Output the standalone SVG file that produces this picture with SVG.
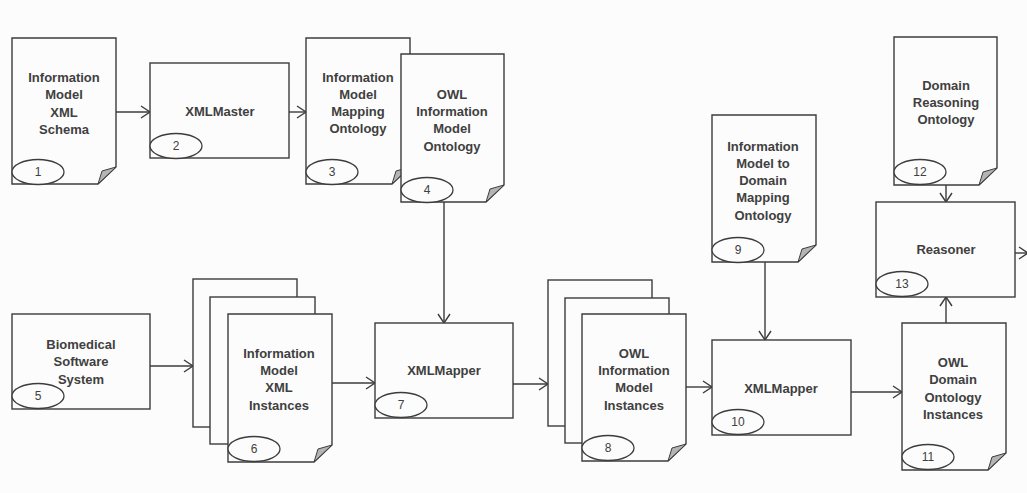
<svg xmlns="http://www.w3.org/2000/svg" width="1027" height="493" viewBox="0 0 1027 493">
<defs>
<style>
.pg{fill:#fcfcfc;stroke:#3c3c3c;stroke-width:1.4}
.fold{fill:#b4b4b4;stroke:#3c3c3c;stroke-width:1}
.el{fill:#fcfcfc;stroke:#3c3c3c;stroke-width:1.3}
.t{font-family:"Liberation Sans",Arial,sans-serif;font-size:13px;font-weight:bold;fill:#404040;text-anchor:middle;dominant-baseline:central}
.n{font-family:"Liberation Sans",Arial,sans-serif;font-size:12px;fill:#404040;text-anchor:middle;dominant-baseline:central}
.c{fill:none;stroke:#3c3c3c;stroke-width:1.4;marker-end:url(#ah)}
</style>
<marker id="ah" markerWidth="12" markerHeight="14" refX="10" refY="7" orient="auto" markerUnits="userSpaceOnUse">
<path d="M1,1 L10,7 L1,13" fill="none" stroke="#3c3c3c" stroke-width="1.4"/>
</marker>
</defs>
<rect width="1027" height="493" fill="#fcfcfc"/>
<g id="connectors">
<line class="c" x1="116" y1="112" x2="150" y2="112"/>
<line class="c" x1="289" y1="112" x2="306" y2="112"/>
<line class="c" x1="444" y1="202" x2="444" y2="323"/>
<line class="c" x1="150" y1="366" x2="193" y2="366"/>
<line class="c" x1="332" y1="383" x2="375" y2="383"/>
<line class="c" x1="513" y1="384" x2="548" y2="384"/>
<line class="c" x1="686" y1="387" x2="712" y2="387"/>
<line class="c" x1="765" y1="262" x2="765" y2="340"/>
<line class="c" x1="851" y1="392" x2="902" y2="392"/>
<line class="c" x1="946" y1="323" x2="946" y2="297"/>
<line class="c" x1="946" y1="185" x2="946" y2="202"/>
<line class="c" x1="1015" y1="253" x2="1028" y2="253"/>
</g>
<g id="node1">
<path class="pg" d="M12,38 H116 V167 L98,184 H12 Z"/>
<path class="fold" d="M98,184 L102,171 L116,167 Z"/>
<text class="t" x="64" y="77">Information</text>
<text class="t" x="64" y="94">Model</text>
<text class="t" x="64" y="112">XML</text>
<text class="t" x="64" y="129">Schema</text>
<ellipse class="el" cx="38" cy="172" rx="26" ry="12.5"/>
<text class="n" x="38" y="172">1</text>
</g>
<g id="node2">
<rect class="pg" x="150" y="63" width="139" height="95"/>
<text class="t" x="220" y="111">XMLMaster</text>
<ellipse class="el" cx="176" cy="146" rx="26" ry="12.5"/>
<text class="n" x="176" y="146">2</text>
</g>
<g id="node3">
<path class="pg" d="M306,38 H410 V167 L392,184 H306 Z"/>
<path class="fold" d="M392,184 L396,171 L410,167 Z"/>
<text class="t" x="358" y="77">Information</text>
<text class="t" x="358" y="94">Model</text>
<text class="t" x="358" y="111">Mapping</text>
<text class="t" x="358" y="128">Ontology</text>
<ellipse class="el" cx="332" cy="172" rx="26" ry="12.5"/>
<text class="n" x="332" y="172">3</text>
</g>
<g id="node4">
<path class="pg" d="M401,54 H504 V185 L486,202 H401 Z"/>
<path class="fold" d="M486,202 L490,189 L504,185 Z"/>
<text class="t" x="452" y="94">OWL</text>
<text class="t" x="452" y="111">Information</text>
<text class="t" x="452" y="128">Model</text>
<text class="t" x="452" y="146">Ontology</text>
<ellipse class="el" cx="427" cy="190" rx="26" ry="12.5"/>
<text class="n" x="427" y="190">4</text>
</g>
<g id="node5">
<rect class="pg" x="12" y="314" width="138" height="95"/>
<text class="t" x="81" y="344">Biomedical</text>
<text class="t" x="81" y="361">Software</text>
<text class="t" x="81" y="379">System</text>
<ellipse class="el" cx="38" cy="396" rx="26" ry="12.5"/>
<text class="n" x="38" y="396">5</text>
</g>
<g id="node6">
<rect class="pg" x="193" y="279" width="104" height="148"/>
<rect class="pg" x="210" y="297" width="105" height="147"/>
<path class="pg" d="M228,314 H332 V445 L314,462 H228 Z"/>
<path class="fold" d="M314,462 L318,449 L332,445 Z"/>
<text class="t" x="279" y="353">Information</text>
<text class="t" x="279" y="370">Model</text>
<text class="t" x="279" y="387">XML</text>
<text class="t" x="279" y="405">Instances</text>
<ellipse class="el" cx="254" cy="449" rx="26" ry="12.5"/>
<text class="n" x="254" y="449">6</text>
</g>
<g id="node7">
<rect class="pg" x="375" y="323" width="138" height="95"/>
<text class="t" x="444" y="370">XMLMapper</text>
<ellipse class="el" cx="401" cy="405" rx="26" ry="12.5"/>
<text class="n" x="401" y="405">7</text>
</g>
<g id="node8">
<rect class="pg" x="548" y="280" width="104" height="146"/>
<rect class="pg" x="565" y="298" width="104" height="145"/>
<path class="pg" d="M582,314 H686 V444 L668,461 H582 Z"/>
<path class="fold" d="M668,461 L672,448 L686,444 Z"/>
<text class="t" x="634" y="353">OWL</text>
<text class="t" x="634" y="370">Information</text>
<text class="t" x="634" y="387">Model</text>
<text class="t" x="634" y="405">Instances</text>
<ellipse class="el" cx="608" cy="448" rx="26" ry="12.5"/>
<text class="n" x="608" y="448">8</text>
</g>
<g id="node9">
<path class="pg" d="M712,115 H816 V245 L798,262 H712 Z"/>
<path class="fold" d="M798,262 L802,249 L816,245 Z"/>
<text class="t" x="763" y="146">Information</text>
<text class="t" x="763" y="163">Model to</text>
<text class="t" x="763" y="180">Domain</text>
<text class="t" x="763" y="197">Mapping</text>
<text class="t" x="763" y="215">Ontology</text>
<ellipse class="el" cx="738" cy="250" rx="26" ry="12.5"/>
<text class="n" x="738" y="250">9</text>
</g>
<g id="node10">
<rect class="pg" x="712" y="340" width="139" height="95"/>
<text class="t" x="781" y="388">XMLMapper</text>
<ellipse class="el" cx="738" cy="422" rx="26" ry="12.5"/>
<text class="n" x="738" y="422">10</text>
</g>
<g id="node11">
<path class="pg" d="M902,323 H1006 V453 L988,470 H902 Z"/>
<path class="fold" d="M988,470 L992,457 L1006,453 Z"/>
<text class="t" x="953" y="362">OWL</text>
<text class="t" x="953" y="379">Domain</text>
<text class="t" x="953" y="397">Ontology</text>
<text class="t" x="953" y="414">Instances</text>
<ellipse class="el" cx="928" cy="457" rx="26" ry="12.5"/>
<text class="n" x="928" y="457">11</text>
</g>
<g id="node12">
<path class="pg" d="M894,37 H997 V168 L979,185 H894 Z"/>
<path class="fold" d="M979,185 L983,172 L997,168 Z"/>
<text class="t" x="946" y="85">Domain</text>
<text class="t" x="946" y="102">Reasoning</text>
<text class="t" x="946" y="119">Ontology</text>
<ellipse class="el" cx="920" cy="172" rx="26" ry="12.5"/>
<text class="n" x="920" y="172">12</text>
</g>
<g id="node13">
<rect class="pg" x="876" y="202" width="139" height="95"/>
<text class="t" x="946" y="249">Reasoner</text>
<ellipse class="el" cx="902" cy="284" rx="26" ry="12.5"/>
<text class="n" x="902" y="284">13</text>
</g>
</svg>
